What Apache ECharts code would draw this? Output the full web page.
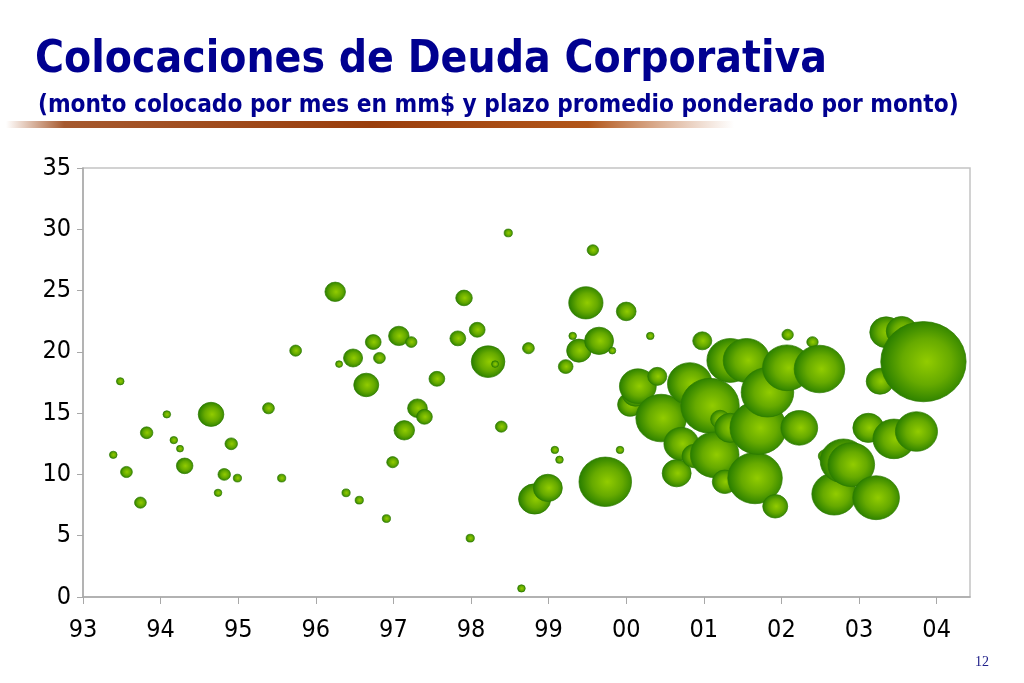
<!DOCTYPE html>
<html>
<head>
<meta charset="utf-8">
<script src="https://cdn.jsdelivr.net/npm/echarts@6/dist/echarts.min.js"></script>
<style>
  html, body { margin: 0; padding: 0; background: #fff; }
  #chart { width: 1024px; height: 683px; }
</style>
</head>
<body>
<div id="chart"></div>
<script>
// fecha de colocacion (anio decimal), plazo promedio (anios), monto colocado (mm$)
var fechas = [
  1993.39, 1993.48, 1993.56, 1993.74, 1993.82, 1994.08, 1994.17, 1994.25, 1994.31, 1994.65,
  1994.74, 1994.82, 1994.91, 1994.99, 1995.39, 1995.56, 1995.74, 1996.25, 1996.30, 1996.39,
  1996.48, 1996.56, 1996.65, 1996.74, 1996.82, 1996.91, 1996.99, 1997.07, 1997.14, 1997.23,
  1997.31, 1997.40, 1997.56, 1997.83, 1997.91, 1997.99, 1998.08, 1998.22, 1998.31, 1998.39,
  1998.48, 1998.65, 1998.74, 1998.82, 1998.99, 1999.08, 1999.14, 1999.22, 1999.31, 1999.39,
  1999.48, 1999.57, 1999.65, 1999.73, 1999.82, 1999.92, 2000.00, 2000.05, 2000.12, 2000.15,
  2000.31, 2000.40, 2000.45, 2000.65, 2000.71, 2000.82, 2000.88, 2000.98, 2001.08, 2001.14,
  2001.21, 2001.27, 2001.34, 2001.34, 2001.55, 2001.66, 2001.70, 2001.82, 2001.92, 2002.07,
  2002.08, 2002.23, 2002.40, 2002.49, 2002.56, 2002.68, 2002.80, 2002.90, 2003.12, 2003.22,
  2003.27, 2003.35, 2003.45, 2003.55, 2003.74, 2003.83
];
var plazos = [
  11.6, 17.6, 10.2, 7.7, 13.4, 14.9, 12.8, 12.1, 10.7, 14.9,
  8.5, 10.0, 12.5, 9.7, 15.4, 9.7, 20.1, 24.9, 19.0, 8.5,
  19.5, 7.9, 17.3, 20.8, 19.5, 6.4, 11.0, 21.3, 13.6, 20.8,
  15.4, 14.7, 17.8, 21.1, 24.4, 4.8, 21.8, 19.2, 19.0, 13.9,
  29.7, 0.7, 20.3, 8.0, 8.9, 12.0, 11.2, 18.8, 21.3, 20.1,
  24.0, 28.3, 20.9, 9.4, 20.1, 12.0, 23.3, 15.7, 16.6, 17.2,
  21.3, 18.0, 14.6, 10.1, 12.5, 17.4, 11.5, 20.9, 15.6, 11.6,
  14.5, 9.4, 13.8, 19.3, 19.3, 9.7, 13.8, 16.7, 7.4, 18.7,
  21.4, 13.8, 20.8, 18.6, 11.5, 8.4, 11.1, 10.8, 13.8, 8.1,
  17.6, 21.6, 12.9, 21.7, 13.5, 19.2
];
var montos = [
  5, 5, 14, 14, 16, 5, 5, 4, 30, 77,
  5, 16, 16, 6, 14, 6, 14, 48, 4, 6,
  41, 6, 73, 27, 14, 6, 14, 48, 48, 13,
  44, 27, 27, 27, 30, 6, 27, 136, 4, 14,
  6, 5, 14, 125, 100, 5, 5, 23, 5, 70,
  142, 13, 100, 345, 4, 5, 44, 73, 86, 165,
  5, 41, 319, 100, 147, 247, 73, 41, 429, 294,
  41, 73, 115, 270, 270, 372, 400, 345, 73, 294,
  13, 165, 13, 319, 18, 247, 270, 270, 115, 270,
  90, 130, 218, 115, 218, 930
];
var aniosEje = [1993, 1994, 1995, 1996, 1997, 1998, 1999, 2000, 2001, 2002, 2003, 2004];
var etiquetasX = ['93', '94', '95', '96', '97', '98', '99', '00', '01', '02', '03', '04'];

var puntos = fechas.map(function (f, i) { return [f, plazos[i], montos[i]]; });

var chart = echarts.init(document.getElementById('chart'));
var fuente = '"DejaVu Sans Condensed", "DejaVu Sans", sans-serif';

var option = {
  backgroundColor: '#ffffff',
  animation: false,
  title: [
    {
      text: 'Colocaciones de Deuda Corporativa',
      left: 30, top: 34,
      textStyle: { color: '#000090', fontFamily: fuente, fontWeight: 'bold', fontSize: 44 }
    },
    {
      text: '(monto colocado por mes en mm$ y plazo promedio ponderado por monto)',
      left: 33, top: 89,
      textStyle: { color: '#000090', fontFamily: fuente, fontWeight: 'bold', fontSize: 24.2 }
    },
    {
      text: '12',
      right: 30, top: 650,
      textStyle: { color: '#20208a', fontFamily: '"Liberation Serif", serif', fontWeight: 'normal', fontSize: 14 }
    }
  ],
  graphic: [{
    type: 'rect',
    shape: { x: 6, y: 121, width: 728, height: 7 },
    style: {
      fill: {
        type: 'linear', x: 0, y: 0, x2: 1, y2: 0,
        colorStops: [
          { offset: 0, color: 'rgba(160,64,10,0)' },
          { offset: 0.08, color: 'rgba(150,60,10,0.85)' },
          { offset: 0.5, color: '#9a3e0c' },
          { offset: 0.8, color: '#b2561a' },
          { offset: 1, color: 'rgba(190,110,60,0)' }
        ]
      }
    }
  }],
  grid: {
    left: 83, right: 54, top: 168, bottom: 86,
    show: true, borderColor: '#c4c4c4', borderWidth: 1.5, backgroundColor: '#ffffff'
  },
  xAxis: {
    type: 'value',
    min: 1993, max: 2004.43,
    axisLine: { lineStyle: { color: '#a8a8a8', width: 1.5 } },
    axisTick: { customValues: aniosEje, length: 7, lineStyle: { color: '#a8a8a8' } },
    axisLabel: {
      customValues: aniosEje,
      formatter: function (v) { return etiquetasX[aniosEje.indexOf(Math.round(v))]; },
      color: '#000', fontFamily: fuente, fontSize: 25, margin: 21
    },
    splitLine: { show: false }
  },
  yAxis: {
    type: 'value',
    min: 0, max: 35, interval: 5,
    axisLine: { show: true, lineStyle: { color: '#a8a8a8', width: 1.5 } },
    axisTick: { show: true, length: 6, lineStyle: { color: '#a8a8a8' } },
    axisLabel: { color: '#000', fontFamily: fuente, fontSize: 25, margin: 12 },
    splitLine: { show: false }
  },
  series: [{
    type: 'scatter',
    data: puntos,
    symbolSize: function (val) {
      var s = Math.sqrt(val[2]);
      return [2.75 * s + 1.5, 2.58 * s + 1.5];
    },
    itemStyle: {
      color: {
        type: 'radial', x: 0.54, y: 0.5, r: 0.52,
        colorStops: [
          { offset: 0, color: '#92cc00' },
          { offset: 0.55, color: '#66aa00' },
          { offset: 1, color: '#2b8000' }
        ]
      },
      borderColor: '#2c7a00',
      borderWidth: 0.7,
      opacity: 1
    }
  }]
};

chart.setOption(option);
</script>
</body>
</html>
